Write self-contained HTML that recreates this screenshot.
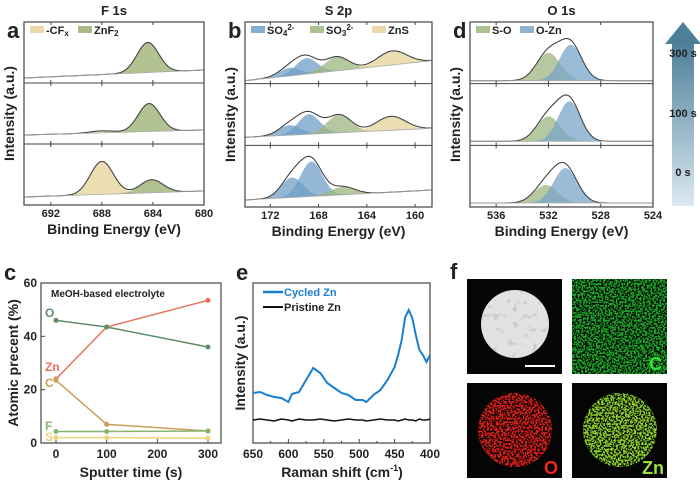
<!DOCTYPE html>
<html><head><meta charset="utf-8"><style>
body{margin:0;background:#fff}
svg{display:block;font-family:"Liberation Sans",Arial,sans-serif}
.t{font-weight:bold;fill:#222}
</style></head><body>
<svg id="fig" width="700" height="483" viewBox="0 0 700 483">
<defs>
 <linearGradient id="arrowGrad" x1="0" y1="0" x2="0" y2="1"><stop offset="0" stop-color="#4d7f99"/><stop offset="1" stop-color="#dbe9f0"/></linearGradient>
 <filter id="speck" x="0" y="0" width="100%" height="100%"><feTurbulence type="fractalNoise" baseFrequency="0.55" numOctaves="2" seed="3"/><feColorMatrix type="matrix" values="0 0 0 0 0  0 0 0 0 0  0 0 0 0 0  0 0 0 7 -3.1"/></filter>
 <filter id="mottle" x="0" y="0" width="100%" height="100%"><feTurbulence type="fractalNoise" baseFrequency="0.15" numOctaves="2" seed="5"/><feColorMatrix type="matrix" values="0 0 0 0 0.45  0 0 0 0 0.45  0 0 0 0 0.45  0 0 0 4 -2.4"/></filter>
 <clipPath id="cTL"><circle cx="515" cy="324" r="34"/></clipPath>
 <clipPath id="cBL"><circle cx="515" cy="430" r="37"/></clipPath>
 <clipPath id="cBR"><circle cx="620" cy="430" r="37"/></clipPath>
</defs>
<g id="root"></g>
</svg>
<script>
const NS="http://www.w3.org/2000/svg";
const root=document.getElementById('root');
function el(tag,attrs,parent,text){const e=document.createElementNS(NS,tag);for(const k in attrs)e.setAttribute(k,attrs[k]);if(text!==undefined)e.textContent=text;(parent||root).appendChild(e);return e;}

// ---------- XPS data (per sub-panel, top=300 s, middle=100 s, bottom=0 s) ----------
const aPeaks=[[[684.4,30,0.85,'ZnF2']],[[688,2,0.9,'CFx'],[684.3,28,0.85,'ZnF2']],[[688,33,0.9,'CFx'],[684.1,13,0.9,'ZnF2']]];
const aBase=[[5,13],[9,14],[8,14]];
const bPeaks=[[[170.4,8,0.9,'SO4'],[169,16,0.9,'SO4'],[166.5,14,1.0,'SO3'],[161.9,14,1.2,'ZnS']],
              [[170.4,10,0.9,'SO4'],[168.8,20,0.9,'SO4'],[166.3,18,1.0,'SO3'],[162,14,1.2,'ZnS']],
              [[170.2,20,0.9,'SO4'],[168.6,35,0.9,'SO4'],[166,8,1.0,'SO3']]];
const bBase=[[3,23],[8,17],[7,17]];
const dPeaks=[[[532,28,0.9,'SO'],[530.3,36,0.85,'OZn']],[[532,25,0.9,'SO'],[530.4,40,0.85,'OZn']],[[532.2,18,0.9,'SO'],[530.7,35,0.9,'OZn']]];
const dBase=[[3,3],[4,4],[4,4]];
const aTicks=[692,688,684,680], bTicks=[172,168,164,160], dTicks=[536,532,528,524];

// ---------- panel c data ----------
const cTimes=[0,100,300];
const cZn=[24,43.5,53.5], cO=[46,43.5,36], cC=[23.5,7,4.5], cF=[4.3,4.3,4.5], cS=[2,2,1.8];
const cYTicks=[0,20,40,60], cXTicks=[0,100,200,300];

// ---------- panel e data ----------
const eShift=[650,640,630,620,610,600,595,585,575,565,555,545,535,525,515,505,495,490,480,470,460,450,445,440,435,430,425,420,415,410,405,400];
const eCycled=[50,51,48,46,45,41,49,51,63,75,70,60,55,50,48,43,43,41,48,53,63,76,88,103,126,133,125,108,93,88,81,88];
const ePristine=[23,24,23,22,24,23,22,24,23,23,24,23,22,23,24,23,23,22,23,24,23,23,22,23,24,23,23,22,24,23,23,24];
const eTicks=[650,600,550,500,450,400];

const FILL={ZnF2:'#9aae6c',CFx:'#e6d39a',SO4:'#6f9fc6',SO3:'#9cb67f',ZnS:'#e6d39a',SO:'#9cb67f',OZn:'#7aa6c8'};

function xps(cfg){
  const {x0,x1,e0,e1,top,bot,peaks,base,ticks,name,title,letter,legend}=cfg;
  const g=el('g',{});
  
  
  const sx=e=>x0+(e0-e)/(e0-e1)*(x1-x0);
  const h=(bot-top)/3;
  for(let s=0;s<3;s++){
    const sb=top+(s+1)*h;
    const sy=v=>sb-v;
    const bl=e=>base[s][0]+(base[s][1]-base[s][0])*(e0-e)/(e0-e1);
    const N=120, pts=[];
    for(let i=0;i<=N;i++){pts.push(e0-(e0-e1)*i/N);}
    peaks[s].forEach(p=>{
      let d='M'+sx(pts[0])+','+sy(bl(pts[0]));
      pts.forEach(e=>{d+='L'+sx(e).toFixed(1)+','+sy(bl(e)+p[1]*Math.exp(-Math.pow(e-p[0],2)/(2*p[2]*p[2]))).toFixed(1);});
      for(let i=N;i>=0;i--)d+='L'+sx(pts[i]).toFixed(1)+','+sy(bl(pts[i])).toFixed(1);
      const a=el('path',{d:d+'Z',fill:FILL[p[3]],'fill-opacity':0.75},g);
      
      
    });
    let d='';
    pts.forEach((e,i)=>{let v=bl(e);peaks[s].forEach(p=>{v+=p[1]*Math.exp(-Math.pow(e-p[0],2)/(2*p[2]*p[2]));});d+=(i?'L':'M')+sx(e).toFixed(1)+','+sy(v).toFixed(1);});
    const env=el('path',{d:d,fill:'none',stroke:'#444','stroke-width':1.1},g);
    
    
    let bd='M'+x0+','+sy(bl(e0))+'L'+x1+','+sy(bl(e1));
    el('path',{d:bd,stroke:'#aaa','stroke-width':0.8,fill:'none'},g);
    if(s<2){el('line',{x1:x0,x2:x1,y1:sb,y2:sb,stroke:'#444','stroke-width':1},g);}
    ticks.forEach(t=>{el('line',{x1:sx(t),x2:sx(t),y1:sb,y2:sb-3,stroke:'#444'},g);el('line',{x1:sx(t),x2:sx(t),y1:sb-h,y2:sb-h+3,stroke:'#444'},g);});
  }
  el('rect',{x:x0,y:top,width:x1-x0,height:bot-top,fill:'none',stroke:'#444','stroke-width':1.2},g);
  ticks.forEach(t=>{const tl=el('text',{x:sx(t),y:bot+12,'font-size':11,'text-anchor':'middle',class:'t'},g,String(t));});
  const xt=el('text',{x:(x0+x1)/2,y:bot+29,'font-size':14,'text-anchor':'middle',class:'t'},g,'Binding Energy (eV)');
  
  const yt=el('text',{x:0,y:0,'font-size':14,'text-anchor':'middle',class:'t',transform:'translate('+(x0-10)+','+((top+bot)/2)+') rotate(-90)'},g,'Intensity (a.u.)');
  
  const tt=el('text',{x:(x0+x1)/2,y:15,'font-size':13,'text-anchor':'middle',class:'t'},g,title);
  
  const lt=el('text',{x:x0-17,y:top+16,'font-size':22,class:'t'},g,letter);
  
  legend.forEach(L=>{
    el('rect',{x:L[0],y:top+4,width:14,height:7,fill:FILL[L[1]],'fill-opacity':0.85},g);
    const t=el('text',{x:L[0]+16,y:top+12,'font-size':11,class:'t'},g);
    t.innerHTML=L[2];
    
    
  });
}
xps({x0:24,x1:204,e0:694.1,e1:680,top:22,bot:205,peaks:aPeaks,base:aBase,ticks:aTicks,name:'panel-a-f1s',title:'F 1s',letter:'a',
  legend:[[30,'CFx','-CF<tspan font-size="8" dy="2">x</tspan>'],[78,'ZnF2','ZnF<tspan font-size="8" dy="2">2</tspan>']]});
xps({x0:245,x1:432,e0:174.1,e1:158.6,top:22,bot:207,peaks:bPeaks,base:bBase,ticks:bTicks,name:'panel-b-s2p',title:'S 2p',letter:'b',
  legend:[[251,'SO4','SO<tspan font-size="8" dy="2">4</tspan><tspan font-size="8" dy="-6">2-</tspan>'],[310,'SO3','SO<tspan font-size="8" dy="2">3</tspan><tspan font-size="8" dy="-6">2-</tspan>'],[372,'ZnS','ZnS']]});
xps({x0:470,x1:653,e0:538,e1:524,top:22,bot:207,peaks:dPeaks,base:dBase,ticks:dTicks,name:'panel-d-o1s',title:'O 1s',letter:'d',
  legend:[[476,'SO','S-O'],[520,'OZn','O-Zn']]});

// arrow
(function(){
  const g=el('g',{});
  
  
  el('rect',{x:672,y:42,width:22,height:164,fill:'url(#arrowGrad)'},g);
  el('polygon',{points:'665,44 683,22 701,44',fill:'#4d7f99'},g);
  [['300 s',57],['100 s',117],['0 s',176]].forEach(l=>{const t=el('text',{x:683,y:l[1],'font-size':11,'text-anchor':'middle',class:'t'},g,l[0]);});
})();

// ---------- panel c ----------
(function(){
  const g=el('g',{});
  
  
  const x0=41,x1=221,y0=283,y1=443;
  const sx=t=>56+t*(208-56)/300, sy=v=>y1-v*(y1-y0)/60;
  el('rect',{x:x0,y:y0,width:x1-x0,height:y1-y0,fill:'none',stroke:'#444','stroke-width':1.2},g);
  cYTicks.forEach(v=>{el('line',{x1:x0,x2:x0+4,y1:sy(v),y2:sy(v),stroke:'#444'},g);const t=el('text',{x:x0-4,y:sy(v)+4,'font-size':12,'text-anchor':'end',class:'t'},g,String(v));});
  cXTicks.forEach(v=>{el('line',{x1:sx(v),x2:sx(v),y1:y1,y2:y1-4,stroke:'#444'},g);const t=el('text',{x:sx(v),y:y1+15,'font-size':12,'text-anchor':'middle',class:'t'},g,String(v));});
  const series=[['Zn',cZn,'#e8705a'],['O',cO,'#5e8c6a'],['C',cC,'#c9a055'],['F',cF,'#86b46e'],['S',cS,'#f0d27a']];
  series.forEach(s=>{
    const d=s[1].map((v,i)=>(i?'L':'M')+sx(cTimes[i])+','+sy(v)).join('');
    const p=el('path',{d:d,fill:'none',stroke:s[2],'stroke-width':1.5},g);
    
    
    s[1].forEach((v,i)=>{const m=el('circle',{cx:sx(cTimes[i]),cy:sy(v),r:2.5,fill:s[2]},g);});
  });
  [['O',317,'#5e8c6a'],['Zn',371,'#e8705a'],['C',387,'#c9a055'],['F',430,'#86b46e'],['S',441,'#f0d27a']].forEach(l=>{const t=el('text',{x:45,y:l[1],'font-size':12,class:'t',fill:l[2],style:'fill:'+l[2]},g,l[0]);});
  const m=el('text',{x:51,y:297,'font-size':10,class:'t'},g,'MeOH-based electrolyte');
  const xt=el('text',{x:131,y:477,'font-size':14,'text-anchor':'middle',class:'t'},g,'Sputter time (s)');
  const yt=el('text',{x:0,y:0,'font-size':14,'text-anchor':'middle',class:'t',transform:'translate(18,363) rotate(-90)'},g,'Atomic precent (%)');
  const lt=el('text',{x:4,y:280,'font-size':22,class:'t'},g,'c');
})();

// ---------- panel e ----------
(function(){
  const g=el('g',{});
  
  
  const x0=253,x1=430,y0=283,y1=443;
  const sx=v=>x0+(650-v)*(x1-x0)/250, sy=v=>y1-v;
  el('rect',{x:x0,y:y0,width:x1-x0,height:y1-y0,fill:'none',stroke:'#444','stroke-width':1.2},g);
  eTicks.forEach(v=>{el('line',{x1:sx(v),x2:sx(v),y1:y1,y2:y1-4,stroke:'#444'},g);const t=el('text',{x:sx(v),y:y1+15,'font-size':12,'text-anchor':'middle',class:'t'},g,String(v));});
  [625,575,525,475,425].forEach(v=>el('line',{x1:sx(v),x2:sx(v),y1:y1,y2:y1-2,stroke:'#444'},g));
  const dc=eShift.map((v,i)=>(i?'L':'M')+sx(v).toFixed(1)+','+sy(eCycled[i])).join('');
  const c=el('path',{d:dc,fill:'none',stroke:'#1a7fd0','stroke-width':2},g);
  
  const dp=eShift.map((v,i)=>(i?'L':'M')+sx(v).toFixed(1)+','+sy(ePristine[i])).join('');
  const p=el('path',{d:dp,fill:'none',stroke:'#111','stroke-width':1.5},g);
  
  el('line',{x1:263,x2:283,y1:292,y2:292,stroke:'#1a7fd0','stroke-width':2.5},g);
  const l1=el('text',{x:284,y:296,'font-size':11,class:'t',style:'fill:#1a7fd0'},g,'Cycled Zn');
  el('line',{x1:263,x2:283,y1:307,y2:307,stroke:'#111','stroke-width':2},g);
  const l2=el('text',{x:284,y:311,'font-size':11,class:'t'},g,'Pristine Zn');
  const xt=el('text',{x:342,y:477,'font-size':14,'text-anchor':'middle',class:'t'},g);xt.innerHTML='Raman shift  (cm<tspan font-size="9" dy="-6">-1</tspan><tspan dy="6">)</tspan>';
  
  const yt=el('text',{x:0,y:0,'font-size':14,'text-anchor':'middle',class:'t',transform:'translate(245,363) rotate(-90)'},g,'Intensity (a.u.)');
  const lt=el('text',{x:236,y:280,'font-size':22,class:'t'},g,'e');
})();

// ---------- panel f ----------
(function(){
  const g=el('g',{});
  
  
  const lt=el('text',{x:450,y:279,'font-size':22,class:'t'},g,'f');
  el('rect',{x:467,y:279,width:95,height:95,fill:'#050505'},g);
  el('circle',{cx:515,cy:324,r:34,fill:'#e2e2e2'},g);
  el('rect',{x:478,y:288,width:75,height:72,fill:'#fff',filter:'url(#mottle)','clip-path':'url(#cTL)',opacity:0.7},g);
  el('line',{x1:525,x2:555,y1:366,y2:366,stroke:'#fff','stroke-width':2},g);
  el('rect',{x:572,y:279,width:95,height:95,fill:'#1fa82a'},g);
  el('rect',{x:572,y:279,width:95,height:95,fill:'#fff',filter:'url(#speck)'},g);
  const tc=el('text',{x:662,y:370,'font-size':18,'text-anchor':'end',class:'t',style:'fill:#2ee03a'},g,'C');
  el('rect',{x:467,y:383,width:95,height:95,fill:'#050505'},g);
  el('circle',{cx:515,cy:430,r:37,fill:'#e0201a'},g);
  el('rect',{x:478,y:393,width:75,height:75,fill:'#fff',filter:'url(#speck)','clip-path':'url(#cBL)'},g);
  const to=el('text',{x:558,y:474,'font-size':18,'text-anchor':'end',class:'t',style:'fill:#ff2020'},g,'O');
  el('rect',{x:572,y:383,width:95,height:95,fill:'#050505'},g);
  el('circle',{cx:620,cy:430,r:37,fill:'#8fd62a'},g);
  el('rect',{x:583,y:393,width:75,height:75,fill:'#fff',filter:'url(#speck)','clip-path':'url(#cBR)'},g);
  const tz=el('text',{x:664,y:474,'font-size':18,'text-anchor':'end',class:'t',style:'fill:#9be03a'},g,'Zn');
})();
</script>
</body></html>
